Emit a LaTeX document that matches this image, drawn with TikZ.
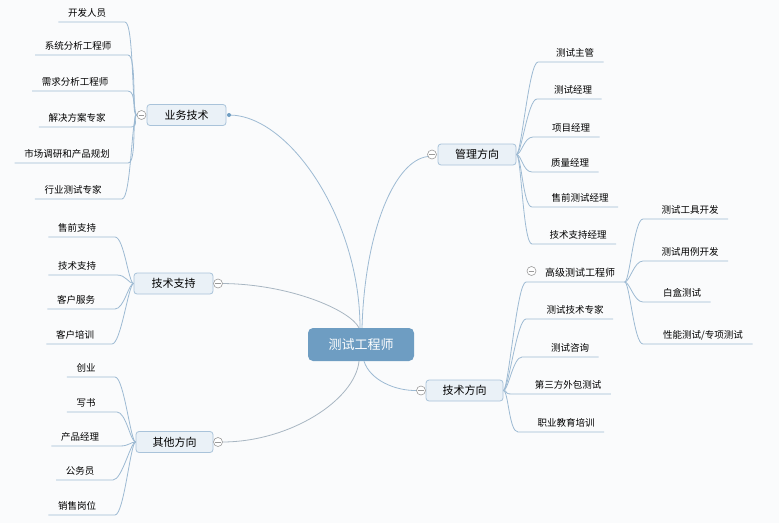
\documentclass[tikz,border=0pt]{standalone}
\usepackage{fontspec}
\setmainfont{Noto Sans CJK SC}
\usetikzlibrary{calc}
\definecolor{bg}{HTML}{FAFBFC}
\definecolor{linec}{HTML}{9DBAD3}
\definecolor{linegray}{HTML}{A8B6C2}
\definecolor{rootfill}{HTML}{6E9DC2}
\definecolor{brfill}{HTML}{EAF1F7}
\definecolor{brdraw}{HTML}{A9C3DA}
\definecolor{knobc}{HTML}{9A9A9A}
\tikzset{
 conn/.style={draw=linec, line width=0.8pt},
 conng/.style={draw=linegray, line width=0.8pt},
 rootnode/.style={fill=rootfill, draw=none, rounded corners=5pt, minimum width=106pt, minimum height=33pt, text=white, font=\fontsize{13}{15}\selectfont, inner sep=0pt},
 branch/.style={fill=brfill, draw=brdraw, line width=0.8pt, rounded corners=3pt, minimum height=21pt, font=\fontsize{11}{13}\selectfont, inner sep=0pt},
 leaf/.style={anchor=south, inner xsep=9.5pt, inner ysep=3.5pt, text height=8pt, text depth=2pt, font=\fontsize{9.5}{11}\selectfont},
 knob/.style={circle, draw=knobc, fill=white, line width=0.6pt, minimum size=9pt, inner sep=0pt,
   path picture={\draw[knobc, line width=0.6pt] ([xshift=-2.8pt]path picture bounding box.center) -- ([xshift=2.8pt]path picture bounding box.center);}},
 dotnode/.style={circle, fill=rootfill, minimum size=4pt, inner sep=0pt},
}
% junction, name, text, text x, underline y, curve end x
\newcommand\leafL[6]{%
 \node[leaf] (#2) at (#4,#5) {#3};
 \coordinate (#2-e) at (#6,#5);
 \draw[conn] (#1) .. controls +(-5,0) and +(9,0) .. (#2-e) -- (#2.south west);}
\newcommand\leafR[6]{%
 \node[leaf] (#2) at (#4,#5) {#3};
 \coordinate (#2-e) at (#6,#5);
 \draw[conn] (#1) .. controls +(5,0) and +(-9,0) .. (#2-e) -- (#2.south east);}
\begin{document}
\begin{tikzpicture}[x=1pt,y=-1pt]
\fill[bg] (0,0) rectangle (779,523);
\useasboundingbox (0,0) rectangle (779,523);

% root and branches
\node[rootnode] (root) at (361,344.5) {测试工程师};
\node[branch, minimum width=79pt] (b1) at (186.5,115) {业务技术};
\node[branch, minimum width=79pt] (b2) at (173.5,283.5) {技术支持};
\node[branch, minimum width=77pt] (b3) at (174.5,442) {其他方向};
\node[branch, minimum width=78pt] (b4) at (477,154.5) {管理方向};
\node[branch, minimum width=77pt] (b5) at (464.5,390.5) {技术方向};

% main connectors
\draw[conn] (229,115) coordinate (d1) .. controls (290,115) and (360,220) .. ([xshift=-1pt]root.north);
\draw[conn] ([xshift=1pt]root.north) .. controls (365,230) and (395,160) .. (428,156.5) coordinate (k4in);
\draw[conng] (222,283.5) coordinate (k2in) .. controls (290,284) and (350,310) .. ([xshift=-2pt]root.north);
\draw[conng] (222,442) coordinate (k3in) .. controls (290,442) and (355,400) .. ([xshift=-2pt]root.south);
\draw[conn] ([xshift=3pt]root.south) .. controls (370,380) and (395,391) .. (417,390.5) coordinate (k5in);

\node[dotnode] (dot1) at (d1) {};
\node[knob] (k1) at (141.5,115) {};
\node[knob] (k2) at (218,283.5) {};
\node[knob] (k3) at (218,442) {};
\node[knob] (k4) at (432,154.5) {};
\node[knob] (k5) at (421,390.5) {};

% group 1
\leafL{k1.west}{l11}{开发人员}{87}{22}{125}
\leafL{k1.west}{l12}{系统分析工程师}{78}{55}{128}
\leafL{k1.west}{l13}{需求分析工程师}{75}{91}{128}
\leafL{k1.west}{l14}{解决方案专家}{77}{127}{131}
\leafL{k1.west}{l15}{市场调研和产品规划}{67}{163}{128}
\leafL{k1.west}{l16}{行业测试专家}{73}{199}{122}
% group 2
\leafL{b2.west}{l21}{售前支持}{77}{237}{115}
\leafL{b2.west}{l22}{技术支持}{77}{275}{117}
\leafL{b2.west}{l23}{客户服务}{76}{309}{115}
\leafL{b2.west}{l24}{客户培训}{75}{344}{112}
% group 3
\leafL{b3.west}{l31}{创业}{86}{377}{115}
\leafL{b3.west}{l32}{写书}{86}{412}{117}
\leafL{b3.west}{l33}{产品经理}{80}{446}{120}
\leafL{b3.west}{l34}{公务员}{80}{480}{113}
\leafL{b3.west}{l35}{销售岗位}{77}{515}{115}
% group 4
\leafR{b4.east}{l41}{测试主管}{575}{62}{538}
\leafR{b4.east}{l42}{测试经理}{573}{99}{537}
\leafR{b4.east}{l43}{项目经理}{571}{137}{533}
\leafR{b4.east}{l44}{质量经理}{570}{172}{532}
\leafR{b4.east}{l45}{售前测试经理}{580}{207}{532}
\leafR{b4.east}{l46}{技术支持经理}{578}{244}{532}
% group 5
\node[leaf, font=\fontsize{10}{12}\selectfont] (gao) at (580,282) {高级测试工程师};
\coordinate (gao-e) at (526,282);
\draw[conn] (b5.east) .. controls +(5,0) and +(-9,0) .. (gao-e) -- (gao.south east);
\node[knob] (k6) at (531.5,271) {};
\leafR{b5.east}{l52}{测试技术专家}{575}{319}{526}
\leafR{b5.east}{l53}{测试咨询}{570}{357}{522}
\leafR{b5.east}{l54}{第三方外包测试}{568}{394}{512}
\leafR{b5.east}{l55}{职业教育培训}{566}{432}{518}
% group 6
\leafR{gao.south east}{l61}{测试工具开发}{690}{219}{643}
\leafR{gao.south east}{l62}{测试用例开发}{690}{261}{643}
\leafR{gao.south east}{l63}{白盒测试}{682}{302}{643}
\leafR{gao.south east}{l64}{性能测试/专项测试}{703}{344}{643}
\end{tikzpicture}
\end{document}
